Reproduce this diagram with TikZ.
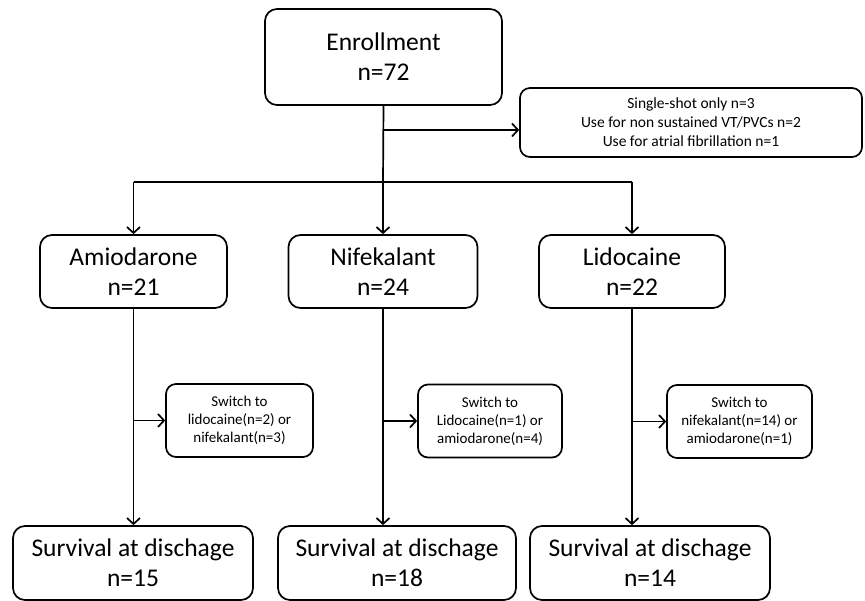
\documentclass[tikz,border=0pt]{standalone}
\usepackage{fontspec}
\setmainfont{Carlito}
\usetikzlibrary{arrows.meta}
\begin{document}
\begin{tikzpicture}[x=1pt,y=-1pt,
  box/.style={draw, line width=1.7pt, rounded corners=12pt, align=center, inner sep=0pt},
  big/.style={box, font=\fontsize{25.5}{30}\selectfont},
  small/.style={box, rounded corners=10pt, font=\fontsize{15}{18}\selectfont},
  arr/.style={line width=1.7pt, -{Straight Barb[length=6pt,width=13pt,line width=1.7pt]}},
  ln/.style={line width=1.7pt}]
\useasboundingbox (0,0) rectangle (865,601);
\node[big, minimum width=237pt, minimum height=96pt] (enr) at (383.5,57) {Enrollment\\n=72};
\node[box, rounded corners=10pt, font=\fontsize{15.5}{19}\selectfont, minimum width=342pt, minimum height=69pt] (side) at (691,122.5) {Single-shot only n=3\\Use for non sustained VT/PVCs n=2\\Use for atrial fibrillation n=1};
\node[big, minimum width=187pt, minimum height=73pt] (amio) at (133.5,271.5) {Amiodarone\\n=21};
\node[big, minimum width=189pt, minimum height=73pt] (nife) at (383,271.5) {Nifekalant\\n=24};
\node[big, minimum width=186pt, minimum height=73pt] (lido) at (632,271.5) {Lidocaine\\n=22};
\node[small, minimum width=147pt, minimum height=73pt] (sw1) at (239.5,420.5) {Switch to\\lidocaine(n=2) or\\nifekalant(n=3)};
\node[small, minimum width=144pt, minimum height=73pt] (sw2) at (490,421) {Switch to\\Lidocaine(n=1) or\\amiodarone(n=4)};
\node[small, minimum width=145pt, minimum height=73pt] (sw3) at (739.5,421.5) {Switch to\\nifekalant(n=14) or\\amiodarone(n=1)};
\node[big, minimum width=240pt, minimum height=74pt] (sv1) at (133,563) {Survival at dischage\\n=15};
\node[big, minimum width=238pt, minimum height=74pt] (sv2) at (397,563) {Survival at dischage\\n=18};
\node[big, minimum width=240pt, minimum height=74pt] (sv3) at (650,563) {Survival at dischage\\n=14};
\coordinate (br) at (383,182);
\coordinate (sd) at (383,130);
\draw[ln] (enr.south) -- (br);
\draw[arr] (sd) -- (sd -| side.west);
\draw[ln] (amio.north |- br) -- (lido.north |- br);
\draw[arr] (amio.north |- br) -- (amio.north);
\draw[arr] (br) -- (nife.north);
\draw[arr] (lido.north |- br) -- (lido.north);
\draw[arr] (amio.south) -- (amio.south |- sv1.north);
\draw[arr] (nife.south) -- (nife.south |- sv2.north);
\draw[arr] (lido.south) -- (lido.south |- sv3.north);
\draw[arr] (amio.south |- sw1.west) -- (sw1.west);
\draw[arr] (nife.south |- sw2.west) -- (sw2.west);
\draw[arr] (lido.south |- sw3.west) -- (sw3.west);
\end{tikzpicture}
\end{document}
